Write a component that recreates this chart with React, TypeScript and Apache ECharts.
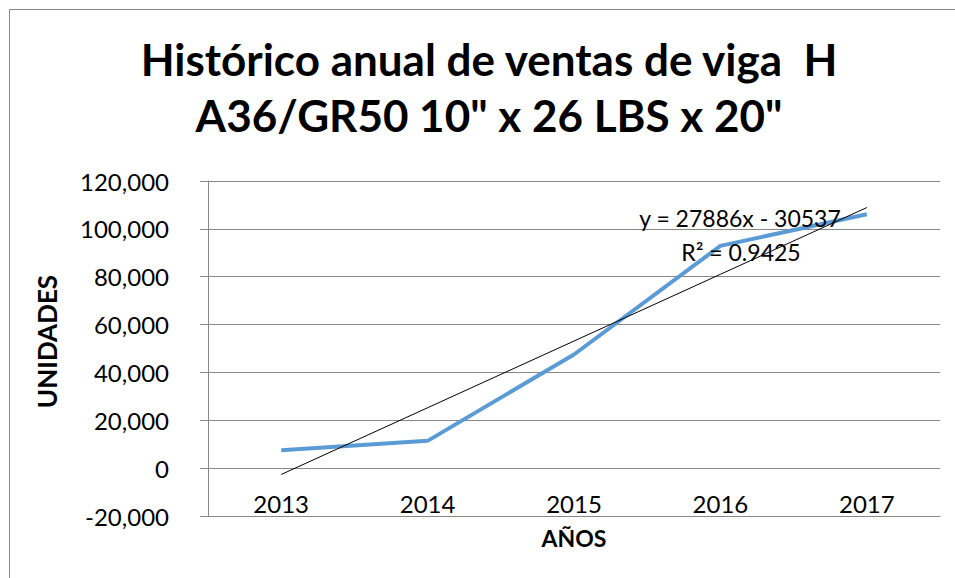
import React, { useEffect, useRef } from "react";
import * as echarts from "echarts";

const titleLines = ["Histórico anual de ventas de viga  H", "A36/GR50 10\" x 26 LBS x 20\""];
const categories = ["2013", "2014", "2015", "2016", "2017"];
const ventas = [7500, 11400, 47500, 92900, 106100];
const trendSlope = 27886;
const trendIntercept = -30537;
const trendLabel = ["y = 27886x - 30537", "R² = 0.9425"];
const yAxisName = "UNIDADES";
const xAxisName = "AÑOS";

const FONT = "Lato, 'Open Sans', sans-serif";

export default function App() {
  const ref = useRef<HTMLDivElement>(null);
  useEffect(() => {
    if (!ref.current) return;
    const chart = echarts.init(ref.current, null, { renderer: "svg" });
    const trend = categories.map((_, i) => trendSlope * (i + 1) + trendIntercept);
    chart.setOption({
      animation: false,
      backgroundColor: "#ffffff",
      title: {
        text: titleLines.join("\n"),
        left: 489,
        top: 31,
        padding: 0,
        textAlign: "center",
        textStyle: {
          fontFamily: FONT,
          fontWeight: "bold",
          fontSize: 44,
          lineHeight: 56,
          color: "#000000",
        },
      },
      grid: {
        left: 208,
        right: 15,
        top: 181,
        bottom: 62,
        containLabel: false,
        outerBoundsMode: "none",
      },
      xAxis: {
        type: "category",
        data: categories,
        boundaryGap: true,
        axisLine: { show: true, onZero: false, lineStyle: { color: "#888888", width: 1 } },
        axisTick: { show: false },
        axisLabel: { margin: -25, fontFamily: FONT, fontSize: 24, color: "#000000" },
        name: xAxisName,
        nameLocation: "middle",
        nameGap: 10,
        nameTextStyle: { fontFamily: FONT, fontWeight: "bold", fontSize: 23, color: "#000000" },
        splitLine: { show: false },
      },
      yAxis: {
        type: "value",
        min: -20000,
        max: 120000,
        interval: 20000,
        axisLine: { show: true, lineStyle: { color: "#888888", width: 1 } },
        axisTick: { show: true, inside: false, length: 8, lineStyle: { color: "#888888" } },
        axisLabel: {
          margin: 39,
          fontFamily: FONT,
          fontSize: 24,
          color: "#000000",
          formatter: (v: number) => v.toLocaleString("en-US"),
        },
        splitLine: { show: true, lineStyle: { color: "#888888", width: 1 } },
        name: yAxisName,
        nameLocation: "middle",
        nameGap: 148,
        nameRotate: 90,
        nameTextStyle: {
          fontFamily: FONT,
          fontWeight: "bold",
          fontSize: 26,
          color: "#000000",
          padding: [0, 0, 0, 14],
        },
      },
      series: [
        {
          name: "Ventas",
          type: "line",
          data: ventas,
          showSymbol: false,
          symbol: "none",
          lineStyle: { color: "#5B9BD5", width: 4 },
          z: 2,
        },
        {
          name: "Tendencia",
          type: "line",
          data: trend,
          showSymbol: false,
          symbol: "none",
          lineStyle: { color: "#000000", width: 1 },
          z: 3,
        },
      ],
      graphic: [
        {
          type: "rect",
          shape: { x: 9.5, y: 9.5, width: 990, height: 620 },
          style: { fill: "none", stroke: "#888888", lineWidth: 1 },
          silent: true,
        },
        {
          type: "text",
          x: 740,
          y: 218,
          style: {
            text: trendLabel[0],
            fontFamily: FONT,
            fontSize: 23,
            fill: "#000000",
            textAlign: "center",
            textVerticalAlign: "middle",
          },
          z: 10,
        },
        {
          type: "text",
          x: 741,
          y: 252,
          style: {
            text: trendLabel[1],
            fontFamily: FONT,
            fontSize: 23,
            fill: "#000000",
            textAlign: "center",
            textVerticalAlign: "middle",
          },
          z: 10,
        },
      ],
    });
    return () => chart.dispose();
  }, []);
  return (
    <div
      ref={ref}
      style={{ position: "absolute", left: 0, top: 0, width: 955, height: 578 }}
    />
  );
}
